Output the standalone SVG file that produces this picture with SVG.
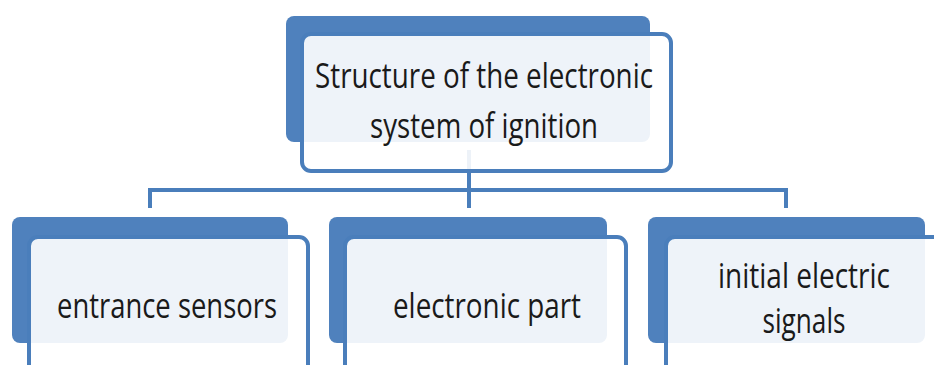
<svg xmlns="http://www.w3.org/2000/svg" width="934" height="365" viewBox="0 0 934 365">
  <style>
    .back { fill: #4f81bd; }
    .front { fill: #ffffff; fill-opacity: 0.9; stroke: #4a7ebb; stroke-width: 4; }
    .conn { fill: none; stroke: #4a7ebb; stroke-width: 4; }
    .label { font-family: "Open Sans", "Liberation Sans", sans-serif; font-size: 35px; fill: #1a1a1a; text-anchor: middle; }
  </style>
  <rect width="934" height="365" fill="#ffffff"/>
  <g id="connectors">
    <path class="conn" d="M469,150 V208"/>
    <path class="conn" d="M150,208 V190 H786 V208"/>
  </g>
  <g id="node-structure">
    <rect class="back" x="286" y="16" width="364" height="126" rx="8"/>
    <rect class="front" x="302" y="34" width="369" height="137" rx="9"/>
    <text class="label" x="484" y="88" textLength="338" lengthAdjust="spacingAndGlyphs">Structure of the electronic</text>
    <text class="label" x="484" y="138" textLength="228" lengthAdjust="spacingAndGlyphs">system of ignition</text>
  </g>
  <g id="node-entrance">
    <rect class="back" x="12" y="217" width="276" height="126" rx="8"/>
    <rect class="front" x="29" y="237" width="279" height="145" rx="9"/>
    <text class="label" x="167" y="318" textLength="220" lengthAdjust="spacingAndGlyphs">entrance sensors</text>
  </g>
  <g id="node-electronic">
    <rect class="back" x="329" y="217" width="278" height="126" rx="8"/>
    <rect class="front" x="345" y="237" width="281" height="145" rx="9"/>
    <text class="label" x="487" y="318" textLength="188" lengthAdjust="spacingAndGlyphs">electronic part</text>
  </g>
  <g id="node-initial">
    <rect class="back" x="648" y="217" width="277" height="126" rx="8"/>
    <rect class="front" x="666" y="237" width="283" height="145" rx="9"/>
    <text class="label" x="804" y="288" textLength="172" lengthAdjust="spacingAndGlyphs">initial electric</text>
    <text class="label" x="804" y="333" textLength="83" lengthAdjust="spacingAndGlyphs">signals</text>
  </g>
</svg>
